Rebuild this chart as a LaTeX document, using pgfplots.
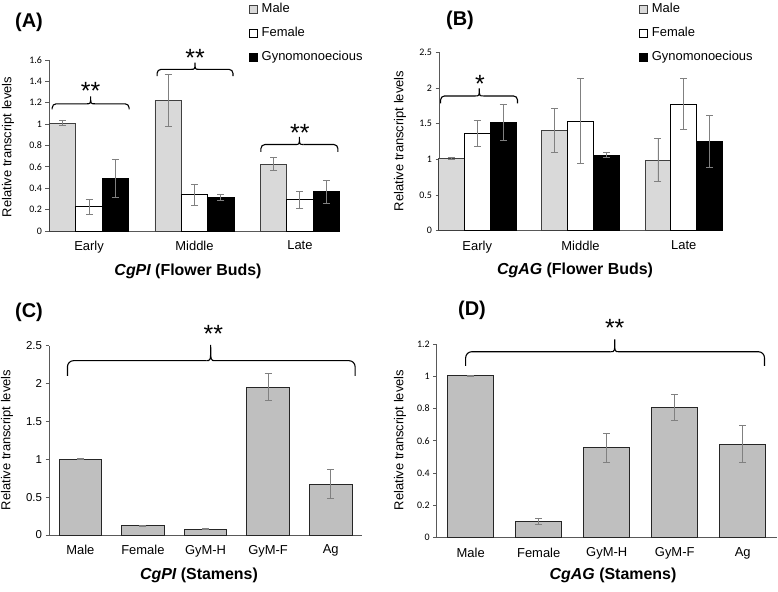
\documentclass[border=0pt]{standalone}
\usepackage{fontspec}
\setmainfont{Liberation Sans}
\newfontfamily\carlito{Carlito}
\usepackage{pgfplots}
\pgfplotsset{compat=1.18}

\definecolor{lgray}{HTML}{D9D9D9}
\definecolor{mgray}{HTML}{BFBFBF}
\definecolor{ebar}{HTML}{808080}
\definecolor{axgray}{HTML}{595959}
\definecolor{bord}{HTML}{404040}

\pgfplotsset{
 mybase/.style={
   scale only axis, clip=false,
   axis x line=bottom, axis y line=left,
   axis line style={-, axgray, line width=0.8bp},
   ymin=0,
   xtick style={draw=none},
   ytick style={axgray, line width=0.8bp},
   tick align=outside, major tick length=3.5bp,
   /pgf/number format/assume math mode=true,
   ybar,
   error bars/y dir=both, error bars/y explicit,
   error bars/error bar style={ebar, line width=0.9bp},
   error bars/error mark options={rotate=90, ebar, mark size=3.5bp, line width=0.9bp},
   xticklabel style={font=\fontsize{13}{13}\selectfont, yshift=-3bp},
 },
 mylegend/.style={
   legend style={draw=none, fill=none, font=\fontsize{13}{13}\selectfont,
     anchor=north west, inner sep=0pt, row sep=10bp,
     nodes={text height=9.5bp, text depth=2.8bp, inner sep=1bp},
     /tikz/every odd column/.append style={column sep=3bp}},
   legend cell align=left,
 }
}

\newcommand{\sigbrace}[8]{%
 % #1 x1, #2 x2, #3 xm, #4 yend, #5 yline, #6 ytip, #7 dx, #8 radius
 \draw[black, line width=1.1bp, rounded corners=#8]
  (axis cs:#1,#4) -- (axis cs:#1,#5) -- (axis cs:#3-#7,#5);
 \draw[black, line width=1.1bp, rounded corners=#8]
  (axis cs:#2,#4) -- (axis cs:#2,#5) -- (axis cs:#3+#7,#5);
 \draw[black, line width=1.1bp]
  (axis cs:#3-#7,#5) .. controls (axis cs:#3,#5) .. (axis cs:#3,#6)
  .. controls (axis cs:#3,#5) .. (axis cs:#3+#7,#5);
}

\newcommand{\stars}[3]{%
 \node[anchor=base, font=\fontsize{25}{25}\selectfont, inner sep=0pt, yshift=-14.5bp] at (axis cs:#1,#2) {#3};}

\begin{document}
\begin{tikzpicture}[x=1bp,y=1bp]
\useasboundingbox (0,0) rectangle (778,592);

% ---------------- (A)
\begin{axis}[mybase, mylegend, at={(49bp,361bp)}, anchor=south west,
  width=291bp, height=171bp,
  xmin=-0.38, xmax=2.38, ymax=1.6,
  ytick={0,0.2,0.4,0.6,0.8,1,1.2,1.4,1.6},
  yticklabel style={font=\fontsize{10}{10}\carlito},
  xtick={0,1,2}, xticklabels={Early,Middle,Late},
  bar width=0.25,
  legend style={at={(axis description cs:0.687,1.341)}},
  legend image code/.code={\draw[#1, line width=0.6bp] (0bp,-4bp) rectangle (8bp,4bp);},
]
\addplot[fill=lgray, draw=bord, line width=0.9bp, bar shift=-0.25]
 coordinates {(0,1.01) +- (0,0.02) (1,1.22) +- (0,0.24) (2,0.625) +- (0,0.063)};
\addplot[fill=white, draw=black, line width=0.9bp, bar shift=0]
 coordinates {(0,0.225) +- (0,0.072) (1,0.34) +- (0,0.098) (2,0.294) +- (0,0.079)};
\addplot[fill=black, draw=black, line width=0.9bp, bar shift=0.25]
 coordinates {(0,0.494) +- (0,0.178) (1,0.3125) +- (0,0.031) (2,0.366) +- (0,0.105)};
\legend{Male,Female,Gynomonoecious}
\sigbrace{-0.35}{0.38}{0.015}{1.1375}{1.19}{1.26}{0.04}{4bp}
\sigbrace{0.645}{1.365}{1.005}{1.45}{1.5125}{1.575}{0.04}{4bp}
\sigbrace{1.63}{2.36}{1.995}{0.74}{0.809}{0.88}{0.04}{4bp}
\stars{0.014}{1.366}{**}
\stars{1.005}{1.677}{**}
\stars{2.0}{0.976}{**}
\end{axis}

% ---------------- (B)
\begin{axis}[mybase, mylegend, at={(439bp,361.3bp)}, anchor=south west,
  width=283bp, height=178.4bp,
  xmin=-0.37, xmax=2.37, ymax=2.5,
  ytick={0,0.5,1,1.5,2,2.5},
  yticklabel style={font=\fontsize{10}{10}\carlito},
  xtick={0,1,2}, xticklabels={Early,Middle,Late},
  bar width=0.25,
  legend style={at={(axis description cs:0.707,1.284)}},
  legend image code/.code={\draw[#1, line width=0.6bp] (0bp,-4bp) rectangle (8bp,4bp);},
]
\addplot[fill=lgray, draw=bord, line width=0.9bp, bar shift=-0.25]
 coordinates {(0,1.014) +- (0,0.012) (1,1.40) +- (0,0.306) (2,0.99) +- (0,0.30)};
\addplot[fill=white, draw=black, line width=0.9bp, bar shift=0]
 coordinates {(0,1.36) +- (0,0.178) (1,1.537) +- (0,0.594) (2,1.774) +- (0,0.353)};
\addplot[fill=black, draw=black, line width=0.9bp, bar shift=0.25]
 coordinates {(0,1.514) +- (0,0.255) (1,1.06) +- (0,0.035) (2,1.252) +- (0,0.36)};
\legend{Male,Female,Gynomonoecious}
\sigbrace{-0.355}{0.39}{0.02}{1.785}{1.888}{1.995}{0.04}{4bp}
\stars{0.026}{2.134}{*}
\end{axis}

% ---------------- (C)
\begin{axis}[mybase, at={(49bp,57bp)}, anchor=south west,
  width=313bp, height=189.3bp,
  xmin=-0.5, xmax=4.5, ymax=2.5,
  ytick={0,0.5,1,1.5,2,2.5},
  yticklabel style={font=\fontsize{11.5}{11.5}\selectfont},
  xtick={0,1,2,3,4}, xticklabels={Male,Female,GyM-H,GyM-F,Ag},
  bar width=0.68,
]
\addplot[fill=mgray, draw=black!85, line width=0.9bp, bar shift=0]
 coordinates {(0,1.003) +- (0,0.01) (1,0.123) +- (0,0.006) (2,0.075) +- (0,0.005) (3,1.954) +- (0,0.183) (4,0.673) +- (0,0.194)};
\sigbrace{-0.205}{4.39}{2.083}{2.10}{2.302}{2.51}{0.07}{6bp}
\stars{2.125}{2.73}{**}
\end{axis}

% ---------------- (D)
\begin{axis}[mybase, at={(436.7bp,54.3bp)}, anchor=south west,
  width=340bp, height=193.7bp,
  xmin=-0.5, xmax=4.5, ymax=1.2,
  ytick={0,0.2,0.4,0.6,0.8,1,1.2},
  yticklabel style={font=\fontsize{10}{10}\carlito},
  xtick={0,1,2,3,4}, xticklabels={Male,Female,GyM-H,GyM-F,Ag},
  bar width=0.676,
]
\addplot[fill=mgray, draw=black!85, line width=0.9bp, bar shift=0]
 coordinates {(0,1.004) +- (0,0.003) (1,0.103) +- (0,0.018) (2,0.556) +- (0,0.087) (3,0.8075) +- (0,0.08) (4,0.58) +- (0,0.115)};
\sigbrace{-0.074}{4.32}{2.118}{1.064}{1.152}{1.229}{0.06}{6bp}
\stars{2.118}{1.338}{**}
\end{axis}

% ---------------- texts
\begin{scope}[every node/.style={font=\fontsize{13}{13}\selectfont, rotate=90}]
\node at (8,445) {Relative transcript levels};
\node at (400,451) {Relative transcript levels};
\node at (7,152) {Relative transcript levels};
\node at (400,152) {Relative transcript levels};
\end{scope}
\begin{scope}[every node/.style={font=\fontsize{16}{16}\selectfont\bfseries}]
\node at (188,321) {\itshape CgPI\upshape\ (Flower Buds)};
\node at (575,322) {\itshape CgAG\upshape\ (Flower Buds)};
\node at (199,17) {\itshape CgPI\upshape\ (Stamens)};
\node at (613,17) {\itshape CgAG\upshape\ (Stamens)};
\end{scope}
\begin{scope}[every node/.style={font=\fontsize{20}{20}\selectfont\bfseries}]
\node at (29,570) {(A)};
\node at (460,572) {(B)};
\node at (29,280) {(C)};
\node at (472,282) {(D)};
\end{scope}
\end{tikzpicture}
\end{document}
